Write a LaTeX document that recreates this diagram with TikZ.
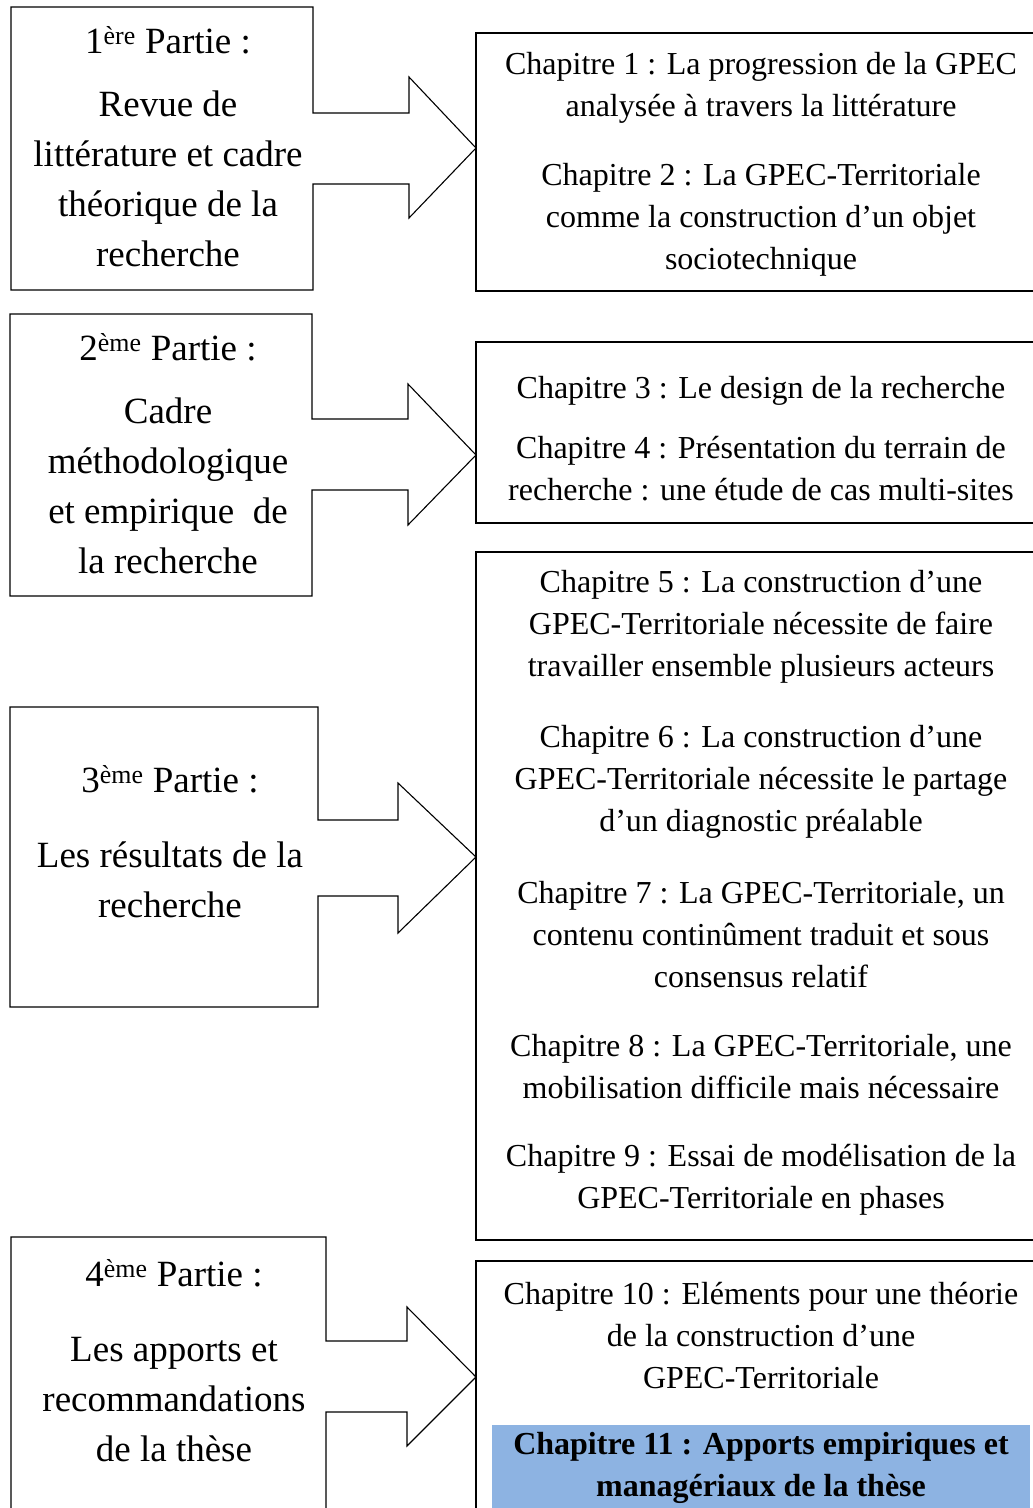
\documentclass[tikz,border=0pt]{standalone}
\usepackage{fontspec}
\setmainfont{Liberation Serif}
\usepackage{xcolor}
\usepackage{tikz}
\definecolor{chapblue}{HTML}{8DB3E2}

\begin{document}
\begin{tikzpicture}[x=1pt, y=-1pt, line width=1.1pt,
    partie/.style={align=center, inner sep=0pt, font=\fontsize{37}{50}\selectfont},
    chap/.style={align=center, inner sep=0pt, font=\fontsize{32}{42}\selectfont}]
    \useasboundingbox (0,0) rectangle (1033,1508);
    \clip (0,0) rectangle (1033,1508);

    % parties (callouts)
    \draw (11,7) -- (313,7) -- (313,113) -- (409,113) -- (409,77) -- (476,148) -- (409,218) -- (409,184) -- (313,184) -- (313,290) -- (11,290) -- cycle;
    \draw (10,314) -- (312,314) -- (312,419) -- (408,419) -- (408,384) -- (476,455) -- (408,525) -- (408,490) -- (312,490) -- (312,596) -- (10,596) -- cycle;
    \draw (10,707) -- (318,707) -- (318,820) -- (398,820) -- (398,783) -- (476,857) -- (398,933) -- (398,896) -- (318,896) -- (318,1007) -- (10,1007) -- cycle;
    \draw (11,1237) -- (326,1237) -- (326,1341) -- (407,1341) -- (407,1307) -- (476,1377) -- (407,1446) -- (407,1412) -- (326,1412) -- (326,1520) -- (11,1520) -- cycle;

    \node[partie] (p1head) at (168,40) {1\textsuperscript{ère} Partie :};
    \node[partie] (p1body) at (168,179) {Revue de\\littérature et cadre\\théorique de la\\recherche};
    \node[partie] (p2head) at (168,347) {2\textsuperscript{ème} Partie :};
    \node[partie] (p2body) at (168,486) {Cadre\\méthodologique\\et empirique\ \ de\\la recherche};
    \node[partie] (p3head) at (170,779) {3\textsuperscript{ème} Partie :};
    \node[partie] (p3body) at (170,880) {Les résultats de la\\recherche};
    \node[partie] (p4head) at (174,1273) {4\textsuperscript{ème} Partie :};
    \node[partie] (p4body) at (174,1400) {Les apports et\\recommandations\\de la thèse};

    % chapitres
    \draw (476,33) rectangle (1040,291);
    \draw (476,342) rectangle (1040,523);
    \draw (476,552) rectangle (1040,1240);
    \draw (476,1261) rectangle (1040,1520);

    \node[chap] (ch1) at (761,88) {Chapitre 1 : La progression de la GPEC\\analysée à travers la littérature};
    \node[chap] (ch2) at (761,220) {Chapitre 2 : La GPEC-Territoriale\\comme la construction d’un objet\\sociotechnique};
    \node[chap] (ch3) at (761,391) {Chapitre 3 : Le design de la recherche};
    \node[chap] (ch4) at (761,469) {Chapitre 4 : Présentation du terrain de\\recherche : une étude de cas multi-sites};
    \node[chap] (ch5) at (761,627) {Chapitre 5 : La construction d’une\\GPEC-Territoriale nécessite de faire\\travailler ensemble plusieurs acteurs};
    \node[chap] (ch6) at (761,782) {Chapitre 6 : La construction d’une\\GPEC-Territoriale nécessite le partage\\d’un diagnostic préalable};
    \node[chap] (ch7) at (761,935) {Chapitre 7 : La GPEC-Territoriale, un\\contenu continûment traduit et sous\\consensus relatif};
    \node[chap] (ch8) at (761,1067) {Chapitre 8 : La GPEC-Territoriale, une\\mobilisation difficile mais nécessaire};
    \node[chap] (ch9) at (761,1180) {Chapitre 9 : Essai de modélisation de la\\GPEC-Territoriale en phases};
    \node[chap] (ch10) at (761,1336) {Chapitre 10 : Eléments pour une théorie\\de la construction d’une\\GPEC-Territoriale};
    \node[chap, fill=chapblue, minimum width=538pt, minimum height=87pt, font=\fontsize{32}{42}\selectfont\bfseries] (ch11) at (761,1468) {Chapitre 11 : Apports empiriques et\\managériaux de la thèse};
\end{tikzpicture}
\end{document}
